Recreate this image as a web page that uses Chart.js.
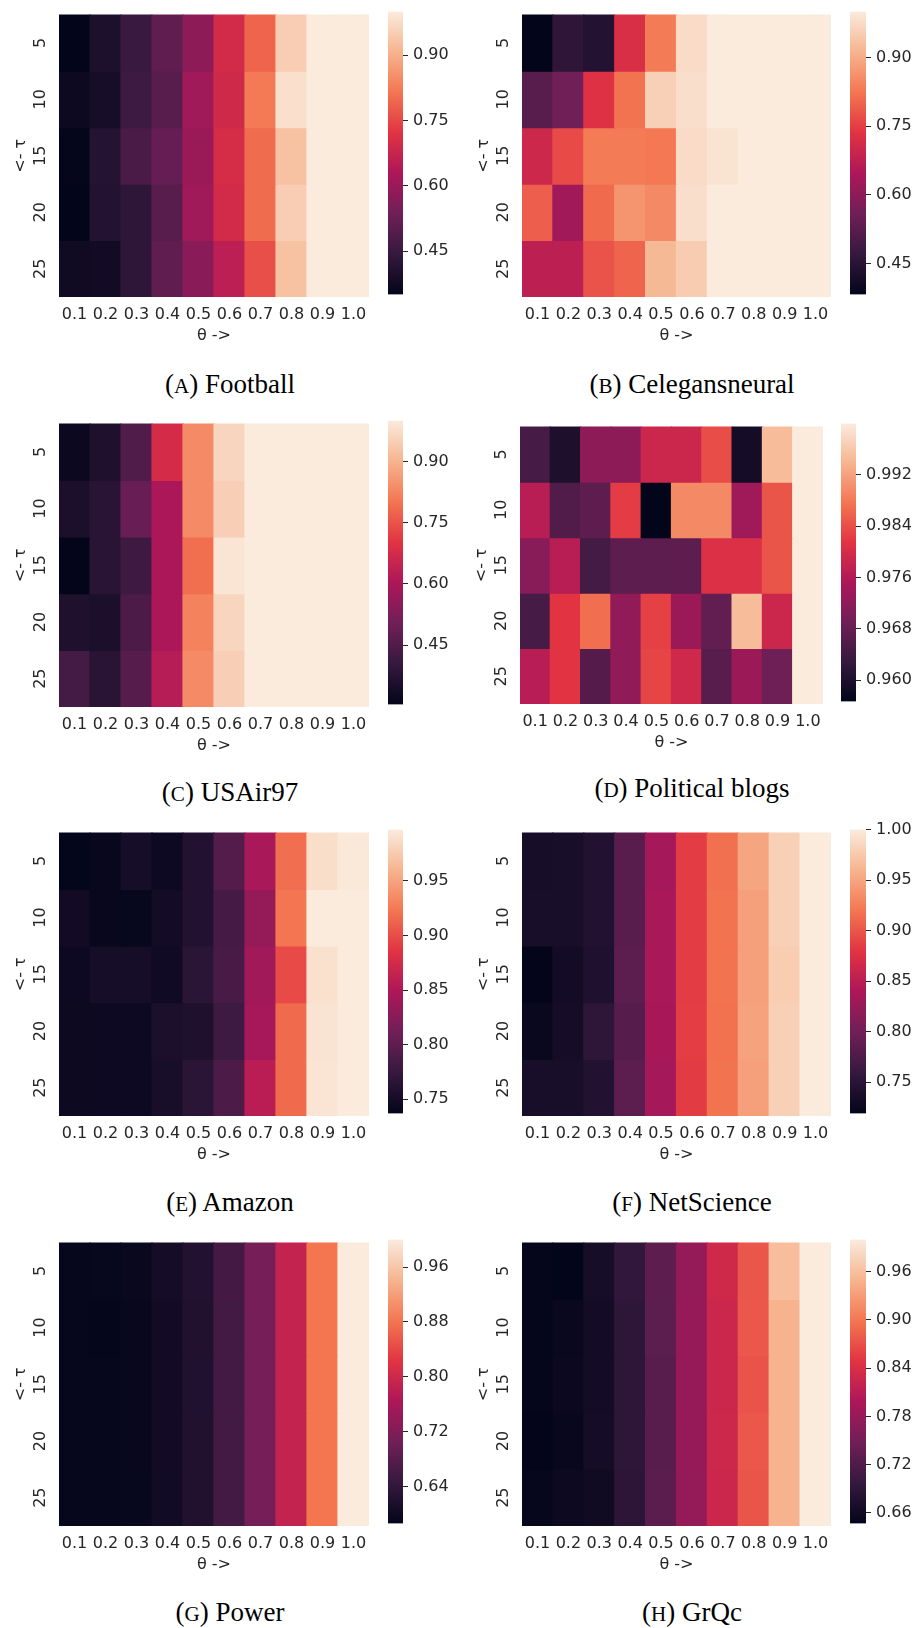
<!DOCTYPE html>
<html>
<head>
<meta charset="utf-8">
<script src="https://cdn.jsdelivr.net/npm/chart.js@4.4.1/dist/chart.umd.min.js"></script>
<style>
html, body { margin: 0; padding: 0; background: #fff; }
#page { position: relative; width: 917px; height: 1628px; overflow: hidden; }
.cap { position: absolute; width: 400px; text-align: center; white-space: nowrap;
       font-family: "Liberation Serif", "Times New Roman", serif; font-size: 27px; line-height: 30px; color: #000; }
.cap .sc { font-size: 0.78em; }
</style>
</head>
<body>
<div id="page"></div>
<script>
// axes
var thetaLabels = ['0.1', '0.2', '0.3', '0.4', '0.5', '0.6', '0.7', '0.8', '0.9', '1.0'];
var tauLabels = ['5', '10', '15', '20', '25'];

// values, one row per tau
var footballValues = [
	[0.350, 0.400, 0.450, 0.510, 0.580, 0.695, 0.790, 0.950, 1.000, 1.000],
	[0.370, 0.390, 0.455, 0.500, 0.610, 0.690, 0.820, 0.980, 1.000, 1.000],
	[0.355, 0.415, 0.475, 0.520, 0.600, 0.700, 0.800, 0.930, 1.000, 1.000],
	[0.350, 0.410, 0.430, 0.500, 0.610, 0.695, 0.800, 0.950, 1.000, 1.000],
	[0.375, 0.380, 0.430, 0.510, 0.575, 0.655, 0.760, 0.930, 1.000, 1.000]
];
var celegansValues = [
	[0.383, 0.460, 0.440, 0.720, 0.830, 0.975, 1.000, 1.000, 1.000, 1.000],
	[0.525, 0.560, 0.730, 0.820, 0.957, 0.980, 1.000, 1.000, 1.000, 1.000],
	[0.700, 0.765, 0.830, 0.830, 0.827, 0.975, 0.988, 1.000, 1.000, 1.000],
	[0.793, 0.630, 0.808, 0.867, 0.852, 0.980, 1.000, 1.000, 1.000, 1.000],
	[0.673, 0.673, 0.778, 0.800, 0.920, 0.950, 1.000, 1.000, 1.000, 1.000]
];
var usairValues = [
	[0.320, 0.360, 0.450, 0.675, 0.835, 0.960, 1.000, 1.000, 1.000, 1.000],
	[0.355, 0.380, 0.490, 0.600, 0.835, 0.950, 1.000, 1.000, 1.000, 1.000],
	[0.306, 0.380, 0.420, 0.600, 0.790, 0.990, 1.000, 1.000, 1.000, 1.000],
	[0.360, 0.355, 0.445, 0.600, 0.820, 0.960, 1.000, 1.000, 1.000, 1.000],
	[0.430, 0.380, 0.460, 0.620, 0.835, 0.950, 1.000, 1.000, 1.000, 1.000]
];
var polblogsValues = [
	[0.9647, 0.9600, 0.9719, 0.9719, 0.9788, 0.9788, 0.9838, 0.9589, 0.9948, 1.0000],
	[0.9766, 0.9658, 0.9671, 0.9823, 0.9567, 0.9896, 0.9896, 0.9740, 0.9846, 1.0000],
	[0.9714, 0.9766, 0.9645, 0.9671, 0.9671, 0.9671, 0.9807, 0.9807, 0.9846, 1.0000],
	[0.9647, 0.9814, 0.9870, 0.9723, 0.9827, 0.9736, 0.9677, 0.9948, 0.9788, 1.0000],
	[0.9766, 0.9814, 0.9662, 0.9723, 0.9831, 0.9792, 0.9667, 0.9736, 0.9688, 1.0000]
];
var amazonValues = [
	[0.738, 0.741, 0.751, 0.745, 0.760, 0.794, 0.846, 0.919, 0.988, 0.995],
	[0.749, 0.741, 0.740, 0.750, 0.760, 0.784, 0.833, 0.922, 0.997, 0.997],
	[0.745, 0.751, 0.751, 0.747, 0.766, 0.786, 0.841, 0.898, 0.990, 0.997],
	[0.744, 0.745, 0.745, 0.755, 0.758, 0.779, 0.844, 0.916, 0.992, 0.997],
	[0.744, 0.745, 0.745, 0.753, 0.766, 0.789, 0.857, 0.916, 0.993, 0.997]
];
var netscienceValues = [
	[0.736, 0.737, 0.744, 0.784, 0.834, 0.885, 0.916, 0.950, 0.980, 1.000],
	[0.737, 0.737, 0.744, 0.783, 0.837, 0.885, 0.918, 0.947, 0.980, 1.000],
	[0.720, 0.733, 0.742, 0.786, 0.837, 0.885, 0.918, 0.947, 0.978, 1.000],
	[0.725, 0.734, 0.753, 0.781, 0.836, 0.886, 0.917, 0.948, 0.980, 1.000],
	[0.737, 0.737, 0.744, 0.786, 0.834, 0.884, 0.918, 0.947, 0.980, 1.000]
];
var powerValues = [
	[0.590, 0.591, 0.594, 0.607, 0.623, 0.660, 0.710, 0.789, 0.882, 1.000],
	[0.590, 0.588, 0.592, 0.605, 0.621, 0.659, 0.710, 0.789, 0.882, 1.000],
	[0.590, 0.589, 0.592, 0.605, 0.622, 0.659, 0.710, 0.789, 0.882, 1.000],
	[0.590, 0.589, 0.592, 0.605, 0.621, 0.659, 0.710, 0.789, 0.882, 1.000],
	[0.589, 0.590, 0.591, 0.604, 0.621, 0.659, 0.710, 0.789, 0.882, 1.000]
];
var grqcValues = [
	[0.649, 0.647, 0.666, 0.693, 0.732, 0.778, 0.831, 0.875, 0.958, 1.000],
	[0.649, 0.654, 0.664, 0.690, 0.731, 0.779, 0.827, 0.876, 0.949, 1.000],
	[0.649, 0.655, 0.664, 0.690, 0.728, 0.779, 0.827, 0.873, 0.949, 1.000],
	[0.648, 0.653, 0.665, 0.690, 0.728, 0.779, 0.828, 0.876, 0.949, 1.000],
	[0.650, 0.657, 0.660, 0.688, 0.729, 0.778, 0.827, 0.874, 0.949, 1.000]
];

// colour bar ranges and ticks
var footballRange = [0.351, 1.0], footballTicks = [0.45, 0.60, 0.75, 0.90];
var celegansRange = [0.383, 1.0], celegansTicks = [0.45, 0.60, 0.75, 0.90];
var usairRange = [0.305, 1.0], usairTicks = [0.45, 0.60, 0.75, 0.90];
var polblogsRange = [0.9567, 1.0], polblogsTicks = [0.960, 0.968, 0.976, 0.984, 0.992];
var amazonRange = [0.737, 0.997], amazonTicks = [0.75, 0.80, 0.85, 0.90, 0.95];
var netscienceRange = [0.719, 1.0], netscienceTicks = [0.75, 0.80, 0.85, 0.90, 0.95, 1.00];
var powerRange = [0.586, 1.0], powerTicks = [0.64, 0.72, 0.80, 0.88, 0.96];
var grqcRange = [0.647, 1.0], grqcTicks = [0.66, 0.72, 0.78, 0.84, 0.90, 0.96];

// seaborn "rocket" approximation
var rocketStops = [
	[0.000, 3, 5, 26], [0.143, 53, 25, 62], [0.286, 112, 31, 87], [0.429, 173, 23, 89],
	[0.571, 225, 51, 66], [0.714, 243, 118, 81], [0.857, 246, 180, 143], [1.000, 250, 235, 221]
];
function rocket(t) {
	t = Math.max(0, Math.min(1, t));
	for (var i = 1; i < rocketStops.length; i++) {
		var a = rocketStops[i - 1], b = rocketStops[i];
		if (t <= b[0]) {
			var f = (t - a[0]) / (b[0] - a[0]);
			return 'rgb(' + Math.round(a[1] + (b[1] - a[1]) * f) + ',' +
				Math.round(a[2] + (b[2] - a[2]) * f) + ',' +
				Math.round(a[3] + (b[3] - a[3]) * f) + ')';
		}
	}
	return 'rgb(250,235,221)';
}

var panels = [
	{ name: 'Football', letter: 'A', values: footballValues, range: footballRange, ticks: footballTicks, dec: 2,
	  left: 59, top: 9, w: 310, h: 288, cbLeft: 388, cbW: 15, capX: 230, capY: 384 },
	{ name: 'Celegansneural', letter: 'B', values: celegansValues, range: celegansRange, ticks: celegansTicks, dec: 2,
	  left: 522, top: 9, w: 309, h: 288, cbLeft: 850, cbW: 16, capX: 692, capY: 384 },
	{ name: 'USAir97', letter: 'C', values: usairValues, range: usairRange, ticks: usairTicks, dec: 2,
	  left: 59, top: 418, w: 310, h: 289, cbLeft: 388, cbW: 15, capX: 230, capY: 792 },
	{ name: 'Political blogs', letter: 'D', values: polblogsValues, range: polblogsRange, ticks: polblogsTicks, dec: 3,
	  left: 520, top: 421, w: 303, h: 283, cbLeft: 841, cbW: 15, capX: 692, capY: 788 },
	{ name: 'Amazon', letter: 'E', values: amazonValues, range: amazonRange, ticks: amazonTicks, dec: 2,
	  left: 59, top: 827, w: 310, h: 289, cbLeft: 388, cbW: 15, capX: 230, capY: 1202 },
	{ name: 'NetScience', letter: 'F', values: netscienceValues, range: netscienceRange, ticks: netscienceTicks, dec: 2,
	  left: 522, top: 827, w: 309, h: 289, cbLeft: 850, cbW: 16, capX: 692, capY: 1202 },
	{ name: 'Power', letter: 'G', values: powerValues, range: powerRange, ticks: powerTicks, dec: 2,
	  left: 59, top: 1237, w: 310, h: 289, cbLeft: 388, cbW: 15, capX: 230, capY: 1612 },
	{ name: 'GrQc', letter: 'H', values: grqcValues, range: grqcRange, ticks: grqcTicks, dec: 2,
	  left: 522, top: 1237, w: 309, h: 289, cbLeft: 850, cbW: 16, capX: 692, capY: 1612 }
];

Chart.defaults.font.family = '"DejaVu Sans", Verdana, sans-serif';
Chart.defaults.font.size = 16;
Chart.defaults.color = '#262626';

var page = document.getElementById('page');

function makeCanvas(left, top, w, h) {
	var c = document.createElement('canvas');
	c.width = w;
	c.height = h;
	c.style.cssText = 'position:absolute;left:' + left + 'px;top:' + top + 'px;width:' + w + 'px;height:' + h + 'px;';
	page.appendChild(c);
	return c;
}

function drawHeatmap(p) {
	var cv = makeCanvas(p.left - 59, p.top - 12, 59 + p.w + 6, 12 + p.h + 48);
	var span = p.range[1] - p.range[0];
	var datasets = tauLabels.map(function (tau, r) {
		return {
			label: tau,
			data: thetaLabels.map(function () { return [r, r + 1]; }),
			backgroundColor: p.values[r].map(function (v) { return rocket((v - p.range[0]) / span); }),
			borderWidth: 0,
			inflateAmount: 0.6,
			barPercentage: 1,
			categoryPercentage: 1
		};
	});
	new Chart(cv, {
		type: 'bar',
		data: { labels: thetaLabels, datasets: datasets },
		options: {
			responsive: false,
			animation: false,
			devicePixelRatio: 1,
			layout: { padding: { top: 12, right: 6, left: 0, bottom: 0 } },
			plugins: { legend: { display: false }, tooltip: { enabled: false } },
			scales: {
				x: {
					stacked: true,
					grid: { display: false, drawTicks: false },
					border: { display: false },
					ticks: { padding: 8, minRotation: 0, maxRotation: 0, autoSkip: false },
					title: { display: true, text: 'θ ->', padding: 0 },
					afterFit: function (s) { s.height = 48; }
				},
				y: {
					stacked: false,
					min: 0,
					max: 5,
					reverse: true,
					grid: { display: false, drawTicks: false },
					border: { display: false },
					afterBuildTicks: function (s) {
						s.ticks = tauLabels.map(function (t, i) { return { value: i + 0.5 }; });
					},
					ticks: {
						minRotation: 90, maxRotation: 90, crossAlign: 'center', padding: 8,
						callback: function (v, i) { return tauLabels[i]; }
					},
					title: { display: true, text: '<- τ', padding: { top: 11, bottom: 0 } },
					afterFit: function (s) { s.width = 59; }
				}
			}
		}
	});
}

function drawColorbar(p) {
	var cv = makeCanvas(p.cbLeft, p.top - 12, p.cbW + 70, p.h + 24);
	new Chart(cv, {
		type: 'bar',
		data: {
			labels: [''],
			datasets: [{
				data: [[p.range[0], p.range[1]]],
				backgroundColor: function (c) {
					var a = c.chart.chartArea;
					if (!a) return '#000';
					var g = c.chart.ctx.createLinearGradient(0, a.bottom, 0, a.top);
					rocketStops.forEach(function (s) { g.addColorStop(s[0], rocket(s[0])); });
					return g;
				},
				borderWidth: 0,
				barPercentage: 1,
				categoryPercentage: 1
			}]
		},
		options: {
			responsive: false,
			animation: false,
			devicePixelRatio: 1,
			layout: { padding: { top: 12, bottom: 12, left: 0, right: 0 } },
			plugins: { legend: { display: false }, tooltip: { enabled: false } },
			scales: {
				x: { display: false },
				y: {
					position: 'right',
					min: p.range[0],
					max: p.range[1],
					grid: { drawOnChartArea: false, drawTicks: true, tickLength: 5, color: '#262626', tickColor: '#262626', lineWidth: 1 },
					border: { display: false },
					afterBuildTicks: function (s) {
						s.ticks = p.ticks.map(function (v) { return { value: v }; });
					},
					ticks: { padding: 5, callback: function (v) { return Number(v).toFixed(p.dec); } },
					afterFit: function (s) { s.width = 70; }
				}
			}
		}
	});
}

function drawCaption(p) {
	var d = document.createElement('div');
	d.className = 'cap';
	d.style.left = (p.capX - 200) + 'px';
	d.style.top = (p.capY - 15) + 'px';
	d.innerHTML = '(<span class="sc">' + p.letter + '</span>) ' + p.name;
	page.appendChild(d);
}

panels.forEach(function (p) {
	drawHeatmap(p);
	drawColorbar(p);
	drawCaption(p);
});
</script>
</body>
</html>
